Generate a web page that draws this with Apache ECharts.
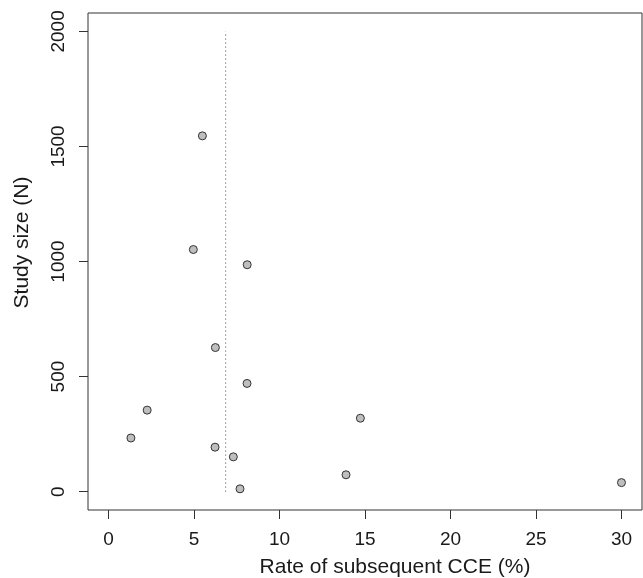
<!DOCTYPE html>
<html>
<head>
<meta charset="utf-8">
<script src="https://cdn.jsdelivr.net/npm/echarts@6/dist/echarts.min.js"></script>
<style>
html,body{margin:0;padding:0;background:#fff;}
#chart{width:643px;height:578px;}
</style>
</head>
<body>
<div id="chart"></div>
<script>
// Data
var rates = [1.31, 2.26, 4.96, 5.49, 6.25, 6.23, 7.30, 7.69, 8.11, 8.10, 13.89, 14.73, 30.0];
var sizes = [233, 354, 1052, 1546, 626, 193, 151, 12, 986, 470, 73, 319, 39];
var xTicks = [0, 5, 10, 15, 20, 25, 30];
var yTicks = [0, 500, 1000, 1500, 2000];
var refRate = 6.85;
var refSpan = [0, 2000];

var points = rates.map(function (r, i) { return [r, sizes[i]]; });
var refLine = refSpan.map(function (v) { return [refRate, v]; });

var font = 'Liberation Sans, Arial, Helvetica, sans-serif';
var chart = echarts.init(document.getElementById('chart'), null, {renderer: 'canvas'});
chart.setOption({
  animation: false,
  backgroundColor: '#fff',
  grid: {
    left: 88, right: 1, top: 13, bottom: 68,
    show: true, borderColor: '#333', borderWidth: 1,
    outerBoundsMode: 'none', containLabel: false
  },
  xAxis: {
    type: 'value', min: -1.2, max: 31.2,
    name: 'Rate of subsequent CCE (%)',
    nameLocation: 'middle', nameGap: 47,
    nameTextStyle: {fontFamily: font, fontSize: 21, color: '#1a1a1a', padding: [0, 0, 0, 60]},
    axisLine: {show: false, onZero: false},
    axisTick: {show: true, customValues: xTicks, length: 9, lineStyle: {color: '#333'}},
    axisLabel: {customValues: xTicks, margin: 20, fontFamily: font, fontSize: 19, color: '#1a1a1a',
      formatter: function (v) { return String(v); }},
    splitLine: {show: false}
  },
  yAxis: {
    type: 'value', min: -80, max: 2080,
    name: 'Study size (N)',
    nameLocation: 'middle', nameGap: 55,
    nameTextStyle: {fontFamily: font, fontSize: 21, color: '#1a1a1a', padding: [0, 0, 0, 38]},
    axisLine: {show: false, onZero: false},
    axisTick: {show: true, customValues: yTicks, length: 9, lineStyle: {color: '#333'}},
    axisLabel: {customValues: yTicks, rotate: 90, margin: 20, fontFamily: font, fontSize: 19, color: '#1a1a1a',
      formatter: function (v) { return String(v); }},
    splitLine: {show: false}
  },
  series: [
    {
      type: 'line', data: refLine, symbol: 'none', silent: true,
      lineStyle: {color: '#444', width: 1, type: [1, 3]}
    },
    {
      type: 'scatter', data: points, symbol: 'circle', symbolSize: 8,
      itemStyle: {color: '#bebebe', borderColor: '#333', borderWidth: 1, opacity: 1}
    }
  ]
});
</script>
</body>
</html>
